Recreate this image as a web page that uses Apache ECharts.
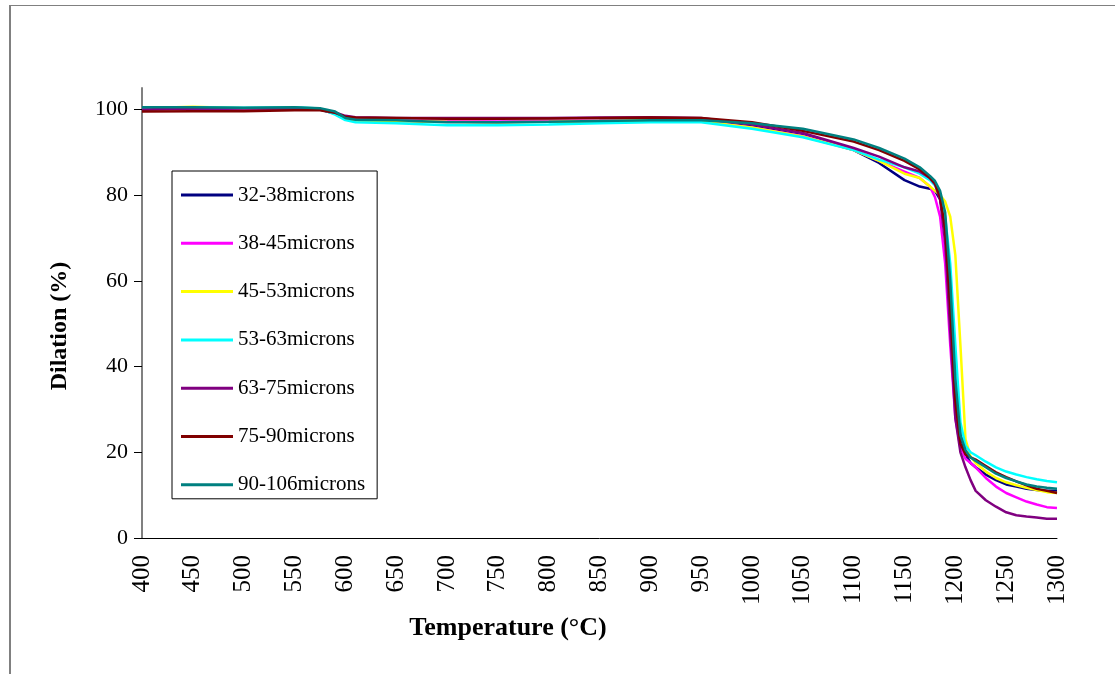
<!DOCTYPE html>
<html>
<head>
<meta charset="utf-8">
<script src="https://cdn.jsdelivr.net/npm/echarts@6/dist/echarts.min.js"></script>
<style>
  html, body { margin: 0; padding: 0; background: #fff; }
  #wrap { position: relative; width: 1115px; height: 674px; }
  #frame { position: absolute; left: 9px; top: 5px; width: 1106px; height: 669px;
           border-top: 1px solid #808080; border-left: 2px solid #808080; box-sizing: border-box; }
  #chart { position: absolute; left: 0; top: 0; width: 1115px; height: 674px; }
</style>
</head>
<body>
<div id="wrap">
  <div id="frame"></div>
  <div id="chart"></div>
</div>
<script>
// temperature (°C)
const temps = [400, 450, 500, 550, 575, 590, 600, 610, 650, 700, 750, 800, 850, 900, 950,
  1000, 1050, 1100, 1125, 1150, 1165, 1175, 1180, 1185, 1190, 1195, 1200, 1205, 1210,
  1215, 1220, 1230, 1240, 1250, 1260, 1270, 1280, 1290, 1300];

// dilation (%) per particle size range
const s32_38 = [100, 100.3, 100.2, 100.3, 100, 99, 98, 97.5, 97.3, 97.2, 97, 97.2, 97.3, 97.5, 97.3,
  96, 94, 90.5, 87.5, 83.5, 82, 81.5, 81, 79, 73, 58, 36, 24, 19.5,
  17.5, 16.5, 14.8, 13.5, 12.5, 12, 11.5, 11.2, 11, 11];
const s38_45 = [100.2, 100.4, 100.3, 100.4, 100.1, 99.1, 98, 97.5, 97.4, 97.3, 97.2, 97.3, 97.4, 97.6, 97.3,
  95.8, 93.8, 90.5, 88, 85.5, 84, 82, 79.5, 75, 64, 45, 28, 21, 18.5,
  17.5, 16.5, 14, 12, 10.5, 9.5, 8.5, 7.8, 7.2, 7];
const s45_53 = [100.3, 100.6, 100.3, 100.4, 100.1, 99.2, 98, 97.4, 97.3, 97.1, 97, 97.1, 97.3, 97.5, 97.2,
  95.8, 93.7, 90.5, 88, 85, 84, 82, 81, 80, 78.5, 75, 66, 45, 23,
  19, 17.5, 15.5, 14, 13, 12.3, 11.7, 11.2, 10.7, 10.5];
const s53_63 = [100.4, 100.5, 100.4, 100.5, 100.2, 98.8, 97.5, 97, 96.8, 96.3, 96.3, 96.5, 96.8, 97, 97,
  95.5, 93.5, 90.5, 88.3, 86.5, 85, 83.5, 82.3, 80, 75, 64, 45, 27, 21.5,
  20, 19.3, 17.8, 16.5, 15.5, 14.8, 14.2, 13.7, 13.3, 13];
const s63_75 = [100, 100.2, 100.2, 100.3, 100.1, 99.3, 98.5, 98.2, 98, 98, 98, 98, 98.1, 98.2, 98,
  96.5, 94.5, 91, 89, 86.5, 85.5, 84, 82.5, 79, 69, 48, 28, 20, 16.5,
  13.5, 11, 8.8, 7.3, 6, 5.3, 5, 4.8, 4.5, 4.5];
const s75_90 = [99.5, 99.6, 99.6, 99.8, 99.8, 99.2, 98.3, 98.1, 98, 97.8, 97.8, 97.9, 98, 98.1, 98,
  97, 95, 92.5, 90.5, 88, 86, 84, 82.8, 79.5, 72, 54, 32, 22, 19.5,
  18.8, 18.3, 16.8, 15.3, 14.2, 13.2, 12.3, 11.5, 11, 10.5];
const s90_106 = [100.5, 100.5, 100.4, 100.5, 100.3, 99.5, 98, 97.6, 97.5, 97, 97, 97.1, 97.3, 97.5, 97.5,
  96.8, 95.5, 93, 91, 88.5, 86.5, 84.5, 83.3, 81, 76, 60, 37, 24, 20.5,
  18.8, 18, 16.5, 15, 14, 13.2, 12.5, 12, 11.7, 11.5];

const seriesNames = ['32-38microns', '38-45microns', '45-53microns', '53-63microns',
  '63-75microns', '75-90microns', '90-106microns'];
const seriesValues = [s32_38, s38_45, s45_53, s53_63, s63_75, s75_90, s90_106];
const seriesColors = ['#000080', '#FF00FF', '#FFFF00', '#00FFFF', '#800080', '#800000', '#008080'];

const yTicks = [0, 20, 40, 60, 80, 100];

const font = '"Liberation Serif", "Times New Roman", serif';

let myChart = echarts.init(document.getElementById('chart'));

let option = {
  animation: false,
  textStyle: { fontFamily: font },
  grid: { left: 142, right: 58, top: 88, bottom: 136, containLabel: false },
  // axis titles, placed like the original (not centred on the plot)
  graphic: [
    {
      type: 'text', x: 60, y: 326, rotation: Math.PI / 2,
      style: { text: 'Dilation (%)', fontFamily: font, fontSize: 24, fontWeight: 'bold',
        fill: '#000', align: 'center', verticalAlign: 'middle' }
    },
    {
      type: 'text', x: 508, y: 628,
      style: { text: 'Temperature (°C)', fontFamily: font, fontSize: 26, fontWeight: 'bold',
        fill: '#000', align: 'center', verticalAlign: 'middle' }
    }
  ],
  legend: {
    orient: 'vertical',
    left: 172,
    top: 171,
    width: 200,
    padding: [13, 12, 3, 9],
    itemGap: 26.3,
    itemWidth: 52,
    itemHeight: 3,
    icon: 'rect',
    borderColor: '#000',
    borderWidth: 1,
    backgroundColor: '#fff',
    textStyle: { fontFamily: font, fontSize: 21, color: '#000', lineHeight: 22 },
    data: seriesNames
  },
  xAxis: {
    type: 'value',
    min: 400,
    max: 1300,
    interval: 50,
    axisLine: { lineStyle: { color: '#000', width: 1 } },
    axisTick: { show: false },
    splitLine: { show: false },
    axisLabel: { rotate: 90, margin: 17, fontFamily: font, fontSize: 25, color: '#000',
      formatter: v => String(v) }
  },
  yAxis: {
    type: 'value',
    min: 0,
    max: 105,
    axisLine: { show: true, lineStyle: { color: '#808080', width: 2 } },
    axisTick: { show: true, length: 8, customValues: yTicks, lineStyle: { color: '#000' } },
    splitLine: { show: false },
    axisLabel: { margin: 14, customValues: yTicks, fontFamily: font, fontSize: 22, color: '#000' }
  },
  series: seriesNames.map((name, i) => ({
    name: name,
    type: 'line',
    showSymbol: false,
    symbol: 'none',
    color: seriesColors[i],
    lineStyle: { width: 2.5, color: seriesColors[i] },
    data: temps.map((t, j) => [t, seriesValues[i][j]])
  }))
};
option && myChart.setOption(option);
</script>
</body>
</html>
